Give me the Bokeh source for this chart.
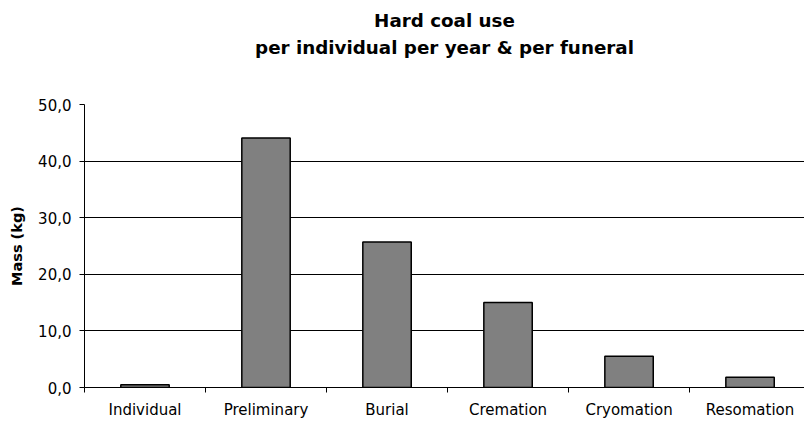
from bokeh.plotting import figure
from bokeh.models import Range1d, FixedTicker, Title
from bokeh.embed import file_html
from bokeh.resources import INLINE

# ---- data ----
categories = ["Individual", "Preliminary", "Burial", "Cremation", "Cryomation", "Resomation"]
mass_kg = [0.5, 44.1, 25.7, 15.0, 5.5, 1.8]
y_ticks = [0, 10, 20, 30, 40, 50]
y_tick_labels = ["0,0", "10,0", "20,0", "30,0", "40,0", "50,0"]
title_lines = ["Hard coal use", "per individual per year & per funeral"]
y_label = "Mass (kg)"

FONT = "DejaVu Sans"
TSIZE = "18.3px"

centers = [i + 0.5 for i in range(len(categories))]
bounds = list(range(len(categories) + 1))

p = figure(width=804, height=422,
           x_range=Range1d(0, 5.95), y_range=Range1d(0, 50),
           output_backend="svg", toolbar_location=None,
           min_border_left=84, min_border_right=0,
           min_border_top=104, min_border_bottom=35)
p.outline_line_color = None
p.background_fill_color = "white"
p.border_fill_color = "white"

# titles: stacked outward from the frame (spacer, line 2, line 1)
spacer = Title(text=" ", align="center", text_font=FONT, text_font_size=TSIZE,
               standoff=20)
t2 = Title(text=title_lines[1], align="center", text_font=FONT,
           text_font_size=TSIZE, text_font_style="bold", text_color="black",
           standoff=8)
t1 = Title(text=title_lines[0], align="center", text_font=FONT,
           text_font_size=TSIZE, text_font_style="bold", text_color="black",
           standoff=0)
p.add_layout(spacer, "above")
p.add_layout(t2, "above")
p.add_layout(t1, "above")

p.vbar(x=centers, width=0.4, top=mass_kg, bottom=0,
       fill_color="#808080", line_color="black", line_width=1.5)

# y axis
yax = p.yaxis[0]
yax.ticker = FixedTicker(ticks=y_ticks)
yax.major_label_overrides = {t: l for t, l in zip(y_ticks, y_tick_labels)}
yax.major_tick_out = 5
yax.major_tick_in = 0
yax.minor_tick_out = 0
yax.minor_tick_in = 0
yax.axis_line_color = "black"
yax.major_tick_line_color = "black"
yax.major_label_text_font = FONT
yax.major_label_text_font_size = "15px"
yax.major_label_text_color = "black"
yax.major_label_standoff = 8
yax.axis_label = y_label
yax.axis_label_text_font = FONT
yax.axis_label_text_font_size = "14.5px"
yax.axis_label_text_font_style = "bold"
yax.axis_label_text_color = "black"
yax.axis_label_standoff = 10

# x axis
xax = p.xaxis[0]
xax.ticker = FixedTicker(ticks=centers, minor_ticks=bounds)
xax.major_label_overrides = {c: n for c, n in zip(centers, categories)}
xax.major_tick_out = 0
xax.major_tick_in = 0
xax.minor_tick_out = 5
xax.minor_tick_in = 0
xax.minor_tick_line_color = "black"
xax.axis_line_color = "black"
xax.major_label_text_font = FONT
xax.major_label_text_font_size = "15px"
xax.major_label_text_color = "black"
xax.major_label_standoff = 8

# grid
p.xgrid.visible = False
p.ygrid.ticker = FixedTicker(ticks=y_ticks)
p.ygrid.grid_line_color = "black"
p.ygrid.grid_line_width = 1

open("out.html", "w").write(file_html(p, INLINE))
